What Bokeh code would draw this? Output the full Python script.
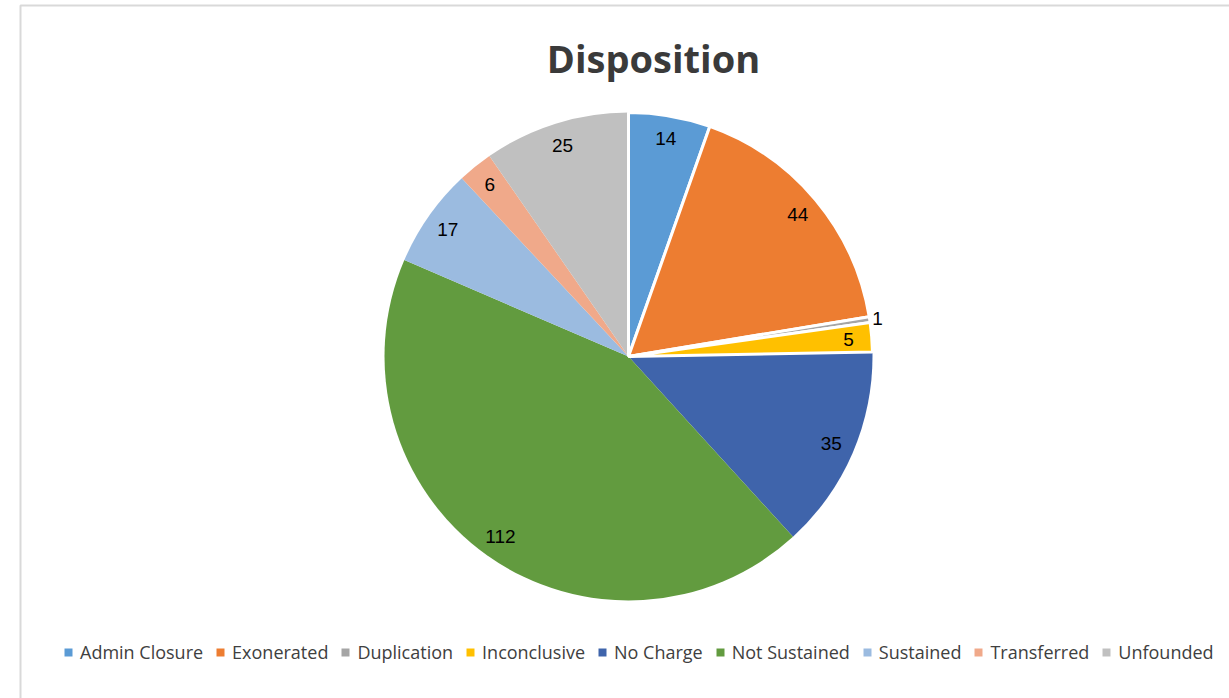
import math
from bokeh.plotting import figure
from bokeh.models import ColumnDataSource, Legend, LegendItem, Range1d
from bokeh.core.properties import value
from bokeh.embed import file_html
from bokeh.resources import INLINE

title = "Disposition"
categories = ["Admin Closure", "Exonerated", "Duplication", "Inconclusive", "No Charge",
              "Not Sustained", "Sustained", "Transferred", "Unfounded"]
counts = [14, 44, 1, 5, 35, 112, 17, 6, 25]
colors = ["#5B9BD5", "#ED7D31", "#A5A5A5", "#FFC000", "#3F64AB",
          "#629B3F", "#9BBBE0", "#F0A98A", "#C0C0C0"]
outlined = [True, True, True, True, False, False, False, False, False]

W, H = 1229, 698
CX, CY, R = 628, H - 356, 244

p = figure(width=W, height=H, x_range=Range1d(0, W), y_range=Range1d(0, H),
           output_backend="svg", toolbar_location=None, min_border=0,
           outline_line_color=None, x_axis_type=None, y_axis_type=None)
p.grid.visible = False
p.background_fill_color = "white"
p.border_fill_color = "white"

# chart frame
p.quad(left=[20], right=[W + 10], bottom=[-10], top=[H - 5], fill_color=None,
       line_color="#D9D9D9", line_width=2)

total = sum(counts)
starts, ends, mids = [], [], []
cum = 0
for v in counts:
    c0 = cum / total
    cum += v
    c1 = cum / total
    starts.append(math.pi / 2 - 2 * math.pi * c1)
    ends.append(math.pi / 2 - 2 * math.pi * c0)
    mids.append(math.pi / 2 - 2 * math.pi * (c0 + c1) / 2)

order = [i for i in range(len(counts)) if not outlined[i]] + [i for i in range(len(counts)) if outlined[i]]
for i in order:
    p.wedge(x=[CX], y=[CY], radius=R, start_angle=[starts[i]], end_angle=[ends[i]],
            direction="anticlock", fill_color=colors[i],
            line_color="white" if outlined[i] else None, line_width=3)

lx, ly, la = [], [], []
for i, v in enumerate(counts):
    frac = v / total
    rr = R * 0.905 if frac > 0.01 else R + 8
    lx.append(CX + rr * math.cos(mids[i]))
    ly.append(CY + rr * math.sin(mids[i]))
    la.append(str(v))
p.text(x=lx, y=ly, text=la, text_font=value("Liberation Sans"), text_font_size="19px",
       text_align="center", text_baseline="middle", text_color="#000000")

p.text(x=[653], y=[H - 57], text=[title], text_font=value("Open Sans"),
       text_font_style="bold", text_font_size="38px", text_align="center",
       text_baseline="middle", text_color="#3A3A3A")

nan = float("nan")
items = []
for c, col in zip(categories, colors):
    r = p.rect(x=[nan], y=[nan], width=1, height=1, fill_color=col, line_color=None)
    items.append(LegendItem(label=c, renderers=[r]))

legend = Legend(items=items, orientation="horizontal", location=(63, 34),
                padding=0, margin=0, spacing=12, label_standoff=7,
                glyph_width=10, glyph_height=10,
                label_text_font="Open Sans", label_text_font_size="18px",
                label_text_color="#404040", border_line_color=None,
                background_fill_alpha=0)
p.add_layout(legend)

open("out.html", "w").write(file_html(p, INLINE))
